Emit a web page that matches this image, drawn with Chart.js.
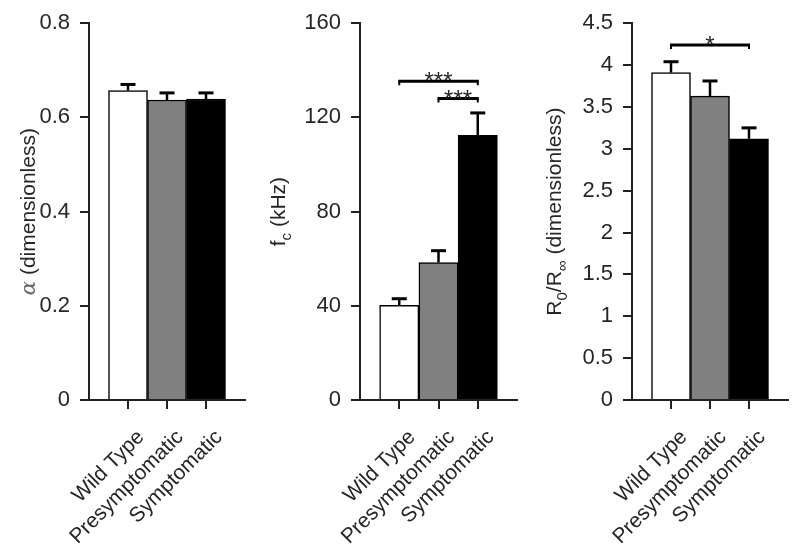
<!DOCTYPE html>
<html>
<head>
<meta charset="utf-8">
<script src="https://cdn.jsdelivr.net/npm/chart.js@4.4.1/dist/chart.umd.min.js"></script>
<style>
body { margin: 0; background: #fff; }
canvas { position: absolute; top: 0; }
</style>
</head>
<body>
<canvas id="alphaChart" width="265" height="556" style="left:0"></canvas>
<canvas id="fcChart" width="265" height="556" style="left:265px"></canvas>
<canvas id="ratioChart" width="270" height="556" style="left:530px"></canvas>
<script>
const groups = ["Wild Type", "Presymptomatic", "Symptomatic"];
const barColors = ["#ffffff", "#808080", "#000000"];

// alpha panel
const alphaMeans = [0.657, 0.637, 0.639];
const alphaErrors = [0.013, 0.015, 0.013];
const alphaTicks = [0, 0.2, 0.4, 0.6, 0.8];

// corner frequency panel
const fcMeans = [40.2, 58.4, 112.4];
const fcErrors = [2.8, 5.0, 9.5];
const fcTicks = [0, 40, 80, 120, 160];
const fcSignif = [
    { from: 1, to: 3, y: 135.4, label: "***" },
    { from: 2, to: 3, y: 128, label: "***" }
];

// R0/Rinf panel
const ratioMeans = [3.91, 3.63, 3.12];
const ratioErrors = [0.13, 0.18, 0.13];
const ratioTicks = [0, 0.5, 1, 1.5, 2, 2.5, 3, 3.5, 4, 4.5];
const ratioSignif = [
    { from: 1, to: 3, y: 4.24, label: "*" }
];

const TEXT = "#262626";
const AXIS = "#222";
const FONT = "'Liberation Sans', Arial, sans-serif";

const extras = {
    id: "extras",
    afterDatasetsDraw(chart, args, opts) {
        const ctx = chart.ctx;
        const x = chart.scales.x;
        const y = chart.scales.y;
        const area = chart.chartArea;
        ctx.save();
        ctx.strokeStyle = "#000";

        // error bars (upper half only)
        chart.getDatasetMeta(0).data.forEach((bar, i) => {
            const top = y.getPixelForValue(opts.means[i] + opts.errors[i]);
            ctx.lineWidth = 2.5;
            ctx.beginPath();
            ctx.moveTo(bar.x, bar.y);
            ctx.lineTo(bar.x, top);
            ctx.stroke();
            ctx.lineWidth = 3;
            ctx.beginPath();
            ctx.moveTo(bar.x - 7.5, top);
            ctx.lineTo(bar.x + 7.5, top);
            ctx.stroke();
        });

        // significance brackets
        (opts.signif || []).forEach(s => {
            const x1 = x.getPixelForValue(s.from) - 1;
            const x2 = x.getPixelForValue(s.to) + 1;
            const py = y.getPixelForValue(s.y);
            ctx.lineWidth = 3;
            ctx.beginPath();
            ctx.moveTo(x1, py);
            ctx.lineTo(x2, py);
            ctx.stroke();
            ctx.lineWidth = 2;
            ctx.beginPath();
            ctx.moveTo(x1 + 1, py);
            ctx.lineTo(x1 + 1, py + 4);
            ctx.moveTo(x2 - 1, py);
            ctx.lineTo(x2 - 1, py + 4);
            ctx.stroke();
            ctx.fillStyle = TEXT;
            ctx.font = "24px " + FONT;
            ctx.textAlign = "center";
            ctx.textBaseline = "alphabetic";
            ctx.fillText(s.label, (x1 + x2) / 2, py + 8);
        });

        // rotated category labels
        ctx.fillStyle = TEXT;
        ctx.font = "21px " + FONT;
        ctx.textAlign = "right";
        ctx.textBaseline = "middle";
        groups.forEach((g, i) => {
            ctx.save();
            ctx.translate(x.getPixelForValue(i + 1) + 13, area.bottom + 34);
            ctx.rotate(-Math.PI / 4);
            ctx.fillText(g, 0, 0);
            ctx.restore();
        });

        // y title, with subscripts
        const parts = opts.title;
        ctx.textAlign = "left";
        ctx.textBaseline = "alphabetic";
        let total = 0;
        parts.forEach(p => {
            ctx.font = (p.italic ? "italic " : "") + (p.sub ? "15px " : "21px ") + (p.serif ? "'DejaVu Serif', serif" : FONT);
            p.w = ctx.measureText(p.t).width;
            total += p.w;
        });
        ctx.translate(area.left - opts.titleOffset, (area.top + area.bottom) / 2);
        ctx.rotate(-Math.PI / 2);
        let cx = -total / 2;
        parts.forEach(p => {
            ctx.font = (p.italic ? "italic " : "") + (p.sub ? "15px " : "21px ") + (p.serif ? "'DejaVu Serif', serif" : FONT);
            ctx.fillStyle = p.color || TEXT;
            ctx.fillText(p.t, cx, p.sub ? 6 : 0);
            cx += p.w;
        });
        ctx.restore();
    }
};

function makePanel(id, means, errors, yTicks, signif, title, titleOffset, axisWidth, padRight) {
    return new Chart(document.getElementById(id), {
        type: "bar",
        data: {
            datasets: [{
                data: means.map((m, i) => ({ x: i + 1, y: m })),
                backgroundColor: barColors,
                borderColor: "#000",
                borderWidth: 1.5,
                barPercentage: 1,
                categoryPercentage: 1
            }]
        },
        options: {
            responsive: false,
            animation: false,
            layout: { padding: { top: 18, right: padRight, bottom: 0, left: 0 } },
            plugins: {
                legend: { display: false },
                tooltip: { enabled: false },
                extras: { means, errors, signif, title, titleOffset }
            },
            scales: {
                x: {
                    type: "linear",
                    min: 0,
                    max: 4,
                    offset: false,
                    z: 1,
                    afterBuildTicks: (axis) => { axis.ticks = [1, 2, 3].map(v => ({ value: v })); },
                    afterFit: (scale) => { scale.height = 156; },
                    ticks: { display: false },
                    grid: { offset: false, drawOnChartArea: false, tickLength: 9, color: AXIS, lineWidth: 2 },
                    border: { color: AXIS, width: 2 }
                },
                y: {
                    min: 0,
                    max: yTicks[yTicks.length - 1],
                    z: 1,
                    afterBuildTicks: (axis) => { axis.ticks = yTicks.map(v => ({ value: v })); },
                    afterFit: (scale) => { scale.width = axisWidth; },
                    ticks: {
                        autoSkip: false,
                        padding: 10,
                        color: TEXT,
                        font: { family: FONT, size: 22 },
                        callback: (v) => String(+v.toFixed(2))
                    },
                    grid: { drawOnChartArea: false, tickLength: 9, color: AXIS, lineWidth: 2 },
                    border: { color: AXIS, width: 2 }
                }
            }
        },
        plugins: [extras]
    });
}

makePanel("alphaChart", alphaMeans, alphaErrors, alphaTicks, [],
    [{ t: "α", italic: true, serif: true, color: "#666" }, { t: " (dimensionless)" }], 54, 89, 20);
makePanel("fcChart", fcMeans, fcErrors, fcTicks, fcSignif,
    [{ t: "f" }, { t: "c", sub: true }, { t: " (kHz)" }], 75, 95, 13);
makePanel("ratioChart", ratioMeans, ratioErrors, ratioTicks, ratioSignif,
    [{ t: "R" }, { t: "0", sub: true }, { t: "/R" }, { t: "∞", sub: true }, { t: " (dimensionless)" }], 71, 102, 12);
</script>
</body>
</html>
